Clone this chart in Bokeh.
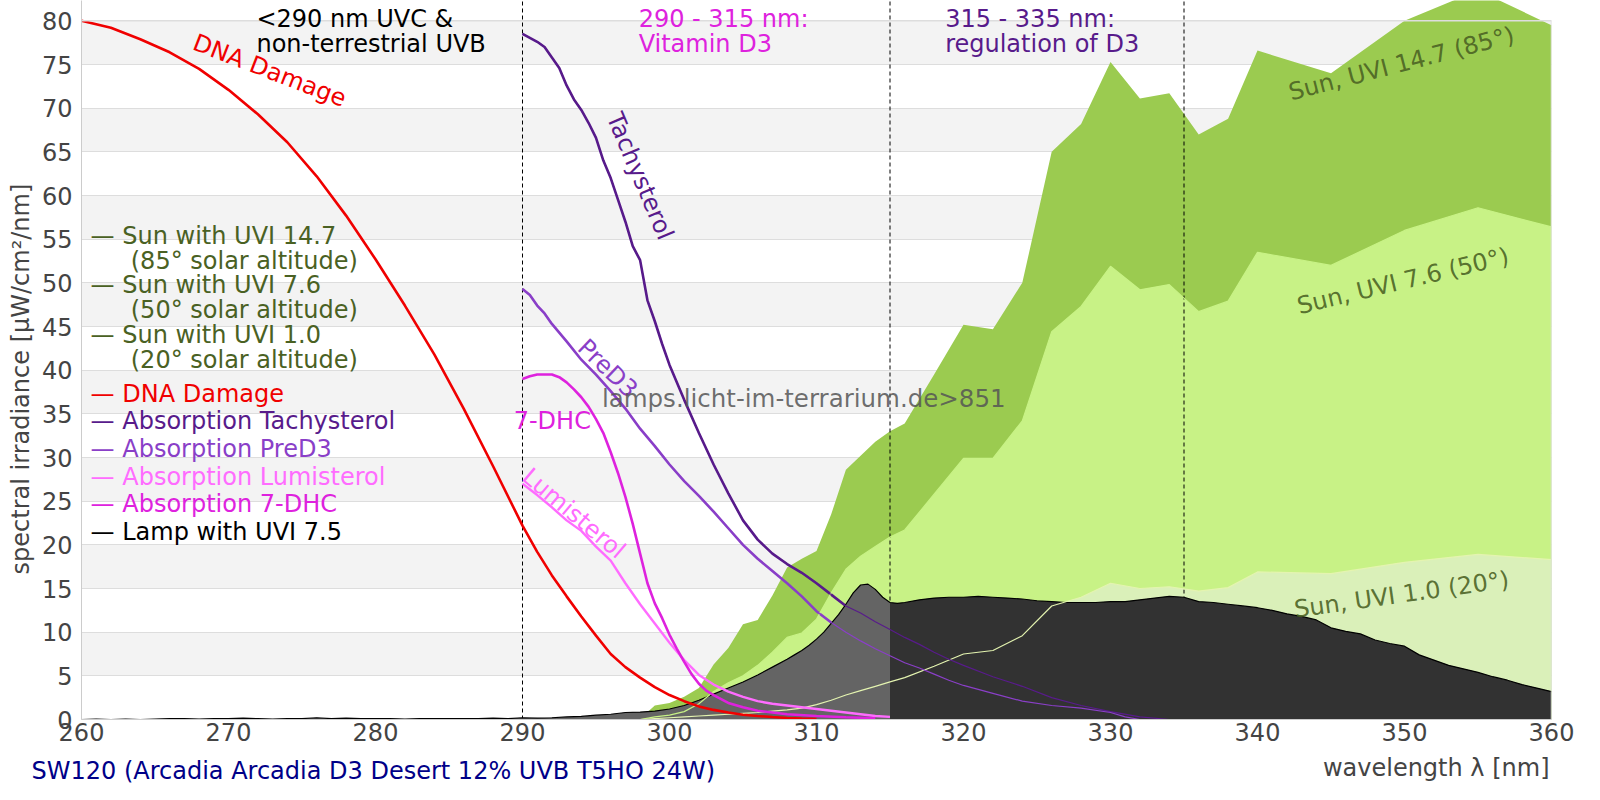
import math
from bokeh.plotting import figure
from bokeh.models import Range1d, FixedTicker, Label, Title
from bokeh.embed import file_html
from bokeh.resources import INLINE

# ---------------- data ----------------
x_ticks = [260, 270, 280, 290, 300, 310, 320, 330, 340, 350, 360]
y_ticks = [0, 5, 10, 15, 20, 25, 30, 35, 40, 45, 50, 55, 60, 65, 70, 75, 80]
region_bounds = [290, 315, 335]

dna_wl = [260, 262, 264, 266, 268, 270, 272, 274, 276, 278, 280, 282, 284, 286, 288, 290,
          291, 292, 293, 294, 295, 296, 297, 298, 299, 300, 301, 302, 303, 304, 305, 306,
          307, 308, 309, 310]
dna_val = [80.0, 79.2, 77.9, 76.4, 74.5, 72.1, 69.3, 66.1, 62.2, 57.7, 52.7, 47.4, 41.8, 35.6, 29.0, 22.2,
           19.2, 16.5, 14.1, 11.8, 9.6, 7.5, 6.0, 4.8, 3.7, 2.8, 2.1, 1.5, 1.1, 0.8, 0.55, 0.4,
           0.28, 0.18, 0.1, 0.05]

tachy_wl = [290, 291, 291.5, 292, 292.5, 293, 293.5, 294, 294.5, 295, 295.5, 296, 296.5, 297, 297.5,
            298, 298.5, 299, 299.5, 300, 301, 302, 303, 304, 305, 306, 307, 308, 309, 310, 311,
            312, 313, 314, 315, 316, 317, 318, 319, 320, 322, 324, 326, 328, 330, 332, 334, 335]
tachy_val = [78.5, 77.6, 77.0, 75.8, 74.6, 72.6, 71.0, 69.8, 68.3, 66.6, 64.0, 62.0, 59.5, 57.0, 54.2,
             52.6, 48.0, 45.6, 43.0, 40.6, 36.6, 32.8, 29.2, 25.9, 22.8, 20.6, 19.0, 17.8, 16.8, 15.6, 14.3,
             13.0, 12.2, 11.2, 10.3, 9.4, 8.6, 7.7, 6.9, 6.2, 4.9, 3.8, 2.5, 1.6, 0.9, 0.3, 0.0, 0.0]

pred3_wl = [290, 290.5, 291, 291.5, 292, 293, 294, 295, 296, 297, 298, 299, 300, 301, 302, 303,
            304, 305, 306, 307, 308, 309, 310, 311, 312, 313, 314, 315, 316, 317, 318, 319, 320,
            322, 324, 326, 328, 330, 331, 332]
pred3_val = [49.3, 48.6, 47.4, 46.5, 45.3, 43.3, 41.2, 39.5, 37.6, 35.6, 33.3, 31.3, 29.2, 27.3, 25.6, 23.8,
             21.9, 20.0, 18.4, 17.0, 15.6, 14.1, 12.4, 11.1, 10.0, 9.0, 8.1, 7.3, 6.5, 5.9, 5.2, 4.5, 3.9,
             3.0, 2.1, 1.6, 1.3, 0.8, 0.3, 0.0]

lumi_wl = [290, 291, 292, 293, 294, 295, 296, 297, 298, 299, 300, 301, 302, 303, 304, 305, 306,
           307, 308, 309, 310, 311, 312, 313, 314, 315]
lumi_val = [27.0, 25.7, 24.3, 22.8, 21.6, 19.8, 18.2, 15.6, 13.2, 11.0, 8.8, 6.8, 5.1, 4.0, 3.2, 2.6, 2.1,
            1.8, 1.6, 1.4, 1.2, 1.0, 0.8, 0.6, 0.4, 0.3]

dhc_wl = [290, 290.5, 291, 292, 292.5, 293, 293.5, 294, 294.5, 295, 295.5, 296, 296.5, 297, 297.5,
          298, 298.5, 299, 299.5, 300, 300.5, 301, 301.5, 302, 302.5, 303, 304, 305, 306, 307, 308,
          310, 312, 314]
dhc_val = [39.0, 39.3, 39.5, 39.5, 39.2, 38.6, 37.8, 36.9, 35.8, 34.4, 32.8, 30.6, 28.2, 25.5, 22.4,
           19.0, 15.6, 13.3, 11.6, 9.7, 8.1, 6.6, 5.2, 4.1, 3.3, 2.8, 1.9, 1.4, 1.0, 0.8, 0.6,
           0.4, 0.25, 0.15]

sun_wl = [296, 297, 298, 299, 300, 301, 302, 303, 304, 305, 306, 307, 308, 309, 310, 311, 312, 313,
          314, 315, 316, 318, 320, 322, 324, 326, 328, 330, 332, 334, 336, 338, 340, 345, 350, 355, 360]
sun_uvi147 = [0.0, 0.0, 0.1, 1.6, 1.9, 2.6, 3.6, 6.3, 8.2, 10.9, 11.4, 14.2, 17.4, 18.4, 19.3, 23.5, 28.6, 30.2,
              31.8, 33.0, 33.9, 39.5, 45.2, 44.7, 50.0, 65.0, 68.2, 75.3, 71.1, 71.7, 67.0, 68.8, 76.6, 74.0,
              80.0, 83.5, 79.5]
sun_uvi76 = [0.0, 0.0, 0.0, 0.3, 0.5, 0.9, 1.8, 3.2, 4.2, 5.0, 6.2, 7.7, 9.4, 9.9, 11.5, 14.5, 17.2, 18.7,
             19.8, 20.9, 21.7, 25.8, 29.9, 29.9, 34.2, 44.4, 47.3, 51.9, 49.2, 49.8, 46.7, 47.9, 53.5, 52.0,
             56.0, 58.6, 56.4]
sun_uvi10 = [0.0, 0.0, 0.0, 0.1, 0.2, 0.3, 0.4, 0.5, 0.6, 0.7, 0.8, 0.95, 1.1, 1.3, 1.7, 2.2, 2.8, 3.3,
             3.8, 4.3, 4.8, 6.1, 7.5, 7.9, 9.6, 13.0, 14.0, 15.6, 15.0, 15.2, 14.7, 15.1, 16.9, 16.7,
             18.0, 18.9, 18.3]

lamp_wl = [260, 261, 262, 263, 264, 265, 266, 267, 268, 269, 270, 271, 272, 273, 274, 275, 276, 277,
           278, 279, 280, 281, 282, 283, 284, 285, 286, 287, 288, 289, 290, 291, 292, 293, 294, 295,
           296, 297, 298, 299, 300, 301, 302, 303, 304, 305, 306, 307, 308, 308.5, 309, 309.5, 310,
           310.5, 311, 311.5, 312, 312.5, 313, 313.5, 314, 314.5, 315, 315.5, 316, 317, 318, 319, 320,
           321, 322, 323, 324, 325, 326, 327, 328, 329, 330, 331, 332, 333, 334, 335, 336, 337, 338,
           339, 340, 341, 342, 343, 344, 345, 346, 347, 348, 349, 350, 351, 352, 353, 354, 355, 356,
           357, 358, 359, 360]
lamp_val = [0.0, 0.05, 0.0, 0.05, 0.0, 0.05, 0.1, 0.1, 0.05, 0.1, 0.1, 0.15, 0.1, 0.05, 0.1, 0.1, 0.2, 0.1,
            0.15, 0.1, 0.1, 0.1, 0.05, 0.1, 0.1, 0.1, 0.1, 0.1, 0.15, 0.1, 0.2, 0.15, 0.2, 0.3, 0.35, 0.5,
            0.6, 0.8, 0.85, 0.95, 1.2, 1.6, 2.2, 2.9, 3.6, 4.3, 5.1, 6.0, 6.9, 7.4, 7.9, 8.5, 9.2,
            10.0, 11.0, 12.0, 13.2, 14.5, 15.4, 15.5, 14.9, 14.0, 13.4, 13.3, 13.4, 13.7, 13.9, 14.0, 14.0,
            14.1, 14.0, 13.9, 13.8, 13.6, 13.5, 13.4, 13.4, 13.4, 13.5, 13.5, 13.7, 13.9, 14.1, 14.0, 13.5,
            13.4, 13.2, 13.0, 12.8, 12.5, 12.1, 11.8, 11.4, 10.5, 10.1, 9.8, 9.1, 8.7, 8.4, 7.4, 6.8,
            6.2, 5.8, 5.4, 4.9, 4.5, 4.0, 3.6, 3.2]

# ---------------- styles ----------------
FONT = "DejaVu Sans"
FS = "24px"
C_UVI147 = "#9bcb50"
C_UVI76 = "#c8f286"
C_UVI10 = "#daf0b9"
C_UVI10_LINE = "#e4f4b0"
C_DNA = "#f00000"
C_TACHY = "#581b8b"
C_PRED3 = "#8a3fc8"
C_LUMI = "#ff6cff"
C_DHC = "#de22de"
C_SUNTXT = "#4a6123"

Y_TOP = 82.33

p = figure(width=1584, height=784, output_backend="svg", toolbar_location=None,
           x_range=Range1d(260, 360), y_range=Range1d(0, Y_TOP),
           min_border_left=81, min_border_right=33, min_border_top=0, min_border_bottom=65)
p.title.visible = False
p.outline_line_color = None
p.background_fill_color = "white"

p.xgrid.visible = False
p.ygrid.grid_line_color = "#dddddd"
p.ygrid.band_fill_color = "#f3f3f3"
p.ygrid.band_fill_alpha = 1.0
p.xaxis.ticker = FixedTicker(ticks=x_ticks)
p.yaxis.ticker = FixedTicker(ticks=y_ticks)
for ax in (p.xaxis, p.yaxis):
    ax.axis_line_color = "#cccccc"
    ax.major_tick_line_color = None
    ax.minor_tick_line_color = None
    ax.major_tick_out = 0
    ax.major_tick_in = 0
    ax.minor_tick_out = 0
    ax.minor_tick_in = 0
    ax.major_label_text_font = FONT
    ax.major_label_text_font_size = FS
    ax.major_label_text_color = "#444444"
p.xaxis.major_label_standoff = 3
p.yaxis.major_label_standoff = 9
p.yaxis.axis_label = "spectral irradiance [µW/cm²/nm]" + "\u00a0" * 5
p.yaxis.axis_label_text_font = FONT
p.yaxis.axis_label_text_font_size = FS
p.yaxis.axis_label_text_font_style = "normal"
p.yaxis.axis_label_text_color = "#444444"
p.yaxis.axis_label_standoff = 4

# sun spectra areas
p.varea(x=sun_wl, y1=0, y2=sun_uvi147, fill_color=C_UVI147)
p.varea(x=sun_wl, y1=0, y2=sun_uvi76, fill_color=C_UVI76)
p.varea(x=sun_wl, y1=0, y2=sun_uvi10, fill_color=C_UVI10)

# region boundaries (dashed)
p.segment(x0=region_bounds, y0=[0] * len(region_bounds), x1=region_bounds, y1=[Y_TOP] * len(region_bounds),
          line_color="black", line_width=1, line_dash="4 3")

# absorption curves (thick)
p.line(tachy_wl, tachy_val, line_color=C_TACHY, line_width=2.6)
p.line(pred3_wl, pred3_val, line_color=C_PRED3, line_width=2.6)

# lamp
lamp_left = [(w, v) for w, v in zip(lamp_wl, lamp_val) if w <= region_bounds[1]]
lamp_right = [(w, v) for w, v in zip(lamp_wl, lamp_val) if w >= region_bounds[1]]
p.varea(x=[a for a, b in lamp_left], y1=0, y2=[b for a, b in lamp_left], fill_color="#646464")
p.varea(x=[a for a, b in lamp_right], y1=0, y2=[b for a, b in lamp_right], fill_color="#323232")
p.line(lamp_wl, lamp_val, line_color="black", line_width=1.2)

# thin lines over lamp
p.line(sun_wl, sun_uvi10, line_color=C_UVI10_LINE, line_width=1.2)
p.line(sun_wl, sun_uvi76, line_color=C_UVI76, line_width=1.2)
p.line(tachy_wl, tachy_val, line_color=C_TACHY, line_width=1.2)
p.line(pred3_wl, pred3_val, line_color=C_PRED3, line_width=1.2)
p.line(lumi_wl, lumi_val, line_color=C_LUMI, line_width=2.4)
p.line(dhc_wl, dhc_val, line_color=C_DHC, line_width=2.6)
p.line(dna_wl, dna_val, line_color=C_DNA, line_width=2.6)

# frame edges (top at 80, right at 360)
p.segment(x0=[x_ticks[0]], y0=[y_ticks[-1]], x1=[x_ticks[-1]], y1=[y_ticks[-1]], line_color="#dddddd", line_width=1.5)
p.segment(x0=[x_ticks[-1]], y0=[0], x1=[x_ticks[-1]], y1=[y_ticks[-1]], line_color="#dddddd", line_width=1.5)


def lab(x, y, text, color, angle_deg=0.0, align="left", baseline="middle", alpha=1.0, size=FS):
    p.add_layout(Label(x=x, y=y, text=text, text_color=color,
                       text_font=FONT, text_font_size=size,
                       angle=math.radians(angle_deg), text_align=align, text_baseline=baseline,
                       text_alpha=alpha))


# region annotations
lab(271.9, 80.25, "<290 nm UVC &", "black")
lab(271.9, 77.35, "non-terrestrial UVB", "black")
lab(297.9, 80.25, "290 - 315 nm:", C_DHC)
lab(297.9, 77.35, "Vitamin D3", C_DHC)
lab(318.75, 80.25, "315 - 335 nm:", C_TACHY)
lab(318.75, 77.35, "regulation of D3", C_TACHY)

# curve labels
lab(272.8, 74.3, "DNA Damage", C_DNA, angle_deg=-21, align="center")
lab(298.0, 62.2, "Tachysterol", C_TACHY, angle_deg=-67, align="center")
lab(295.8, 40.2, "PreD3", C_PRED3, angle_deg=-44, align="center")
lab(289.4, 34.2, "7-DHC", C_DHC)
lab(293.5, 23.6, "Lumisterol", C_LUMI, angle_deg=-40, align="center")
lab(349.8, 75.1, "Sun, UVI 14.7 (85°)", C_SUNTXT, angle_deg=14.5, align="center", alpha=0.9)
lab(349.9, 50.2, "Sun, UVI 7.6 (50°)", C_SUNTXT, angle_deg=13.5, align="center", alpha=0.9)
lab(349.8, 14.3, "Sun, UVI 1.0 (20°)", C_SUNTXT, angle_deg=8, align="center", alpha=0.9)

# watermark
lab(295.4, 36.8, "lamps.licht-im-terrarium.de>851", "#555555", alpha=0.85, size="24.5px")

# pseudo legend
LX = 260.62
LX2 = 263.35
lab(LX, 55.4, "\u2014 Sun with UVI 14.7", C_SUNTXT)
lab(LX2, 52.55, "(85° solar altitude)", C_SUNTXT)
lab(LX, 49.7, "\u2014 Sun with UVI 7.6", C_SUNTXT)
lab(LX2, 46.85, "(50° solar altitude)", C_SUNTXT)
lab(LX, 44.0, "\u2014 Sun with UVI 1.0", C_SUNTXT)
lab(LX2, 41.15, "(20° solar altitude)", C_SUNTXT)
lab(LX, 37.3, "\u2014 DNA Damage", C_DNA)
lab(LX, 34.15, "\u2014 Absorption Tachysterol", C_TACHY)
lab(LX, 31.0, "\u2014 Absorption PreD3", C_PRED3)
lab(LX, 27.8, "\u2014 Absorption Lumisterol", C_LUMI)
lab(LX, 24.65, "\u2014 Absorption 7-DHC", C_DHC)
lab(LX, 21.5, "\u2014 Lamp with UVI 7.5", "black")

# below the axis: x-axis label (right) and source title (left); zero-height panels,
# text pushed down by a negative standoff
t_axis = Title(text="wavelength λ [nm]", align="right", offset=2, standoff=-76, vertical_align="bottom",
               text_font=FONT, text_font_size=FS, text_font_style="normal", text_color="#444444")
t_src = Title(text="SW120 (Arcadia Arcadia D3 Desert 12% UVB T5HO 24W)", align="left", offset=-50,
              standoff=-82, vertical_align="bottom",
              text_font=FONT, text_font_size=FS, text_font_style="normal", text_color="#000088")
p.add_layout(t_axis, "below")
p.add_layout(t_src, "below")

open("out.html", "w").write(file_html(p, INLINE))
